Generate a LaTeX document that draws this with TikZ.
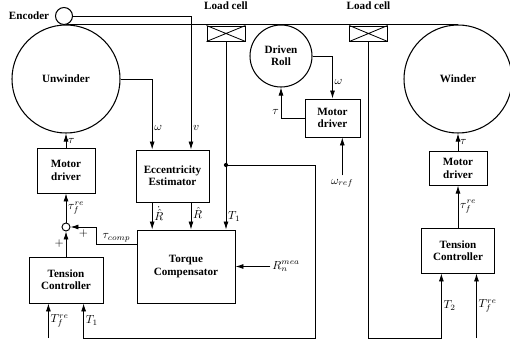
\documentclass[tikz,border=0pt]{standalone}
\usepackage{fontspec}
\setmainfont{Liberation Serif}
\usetikzlibrary{arrows.meta,positioning,calc}

\begin{document}
\begin{tikzpicture}[x=0.03cm,y=-0.03cm,
  font=\fontsize{9.5}{10.5}\selectfont\bfseries, node distance=1mm,
  blk/.style={draw,line width=0.8pt,align=center,inner sep=1pt},
  roll/.style={draw,circle,line width=0.9pt,align=center,inner sep=0pt},
  lbl/.style={font=\fontsize{10}{11}\selectfont,inner sep=1.5pt},
  sig/.style={line width=0.7pt},
  arr/.style={sig,-{Latex[length=2.4mm,width=1.5mm]}},
  web/.style={line width=1.4pt}]
\useasboundingbox (0,0) rectangle (510,343);
% rolls and sensors
\node[roll,minimum size=3.24cm] (unw) at (66,79) {Unwinder};
\node[roll,minimum size=3.24cm] (wnd) at (458,79) {Winder};
\node[roll,minimum size=1.86cm] (drv) at (281,56) {Driven\\Roll};
\node[roll,minimum size=0.51cm,fill=white] (enc) at (64,16) {};
\node[left=0.5mm of enc] (enctxt) {Encoder};
\draw[web] (unw.north) -- (wnd.north);
\node[blk,minimum width=1.14cm,minimum height=0.45cm] (lc1) at (226,33.5) {};
\node[blk,minimum width=1.12cm,minimum height=0.45cm] (lc2) at (368.5,33.5) {};
\draw[sig] (lc1.north west) -- (lc1.south east) (lc1.south west) -- (lc1.north east);
\draw[sig] (lc2.north west) -- (lc2.south east) (lc2.south west) -- (lc2.north east);
\node[above=3.5mm of lc1.north] (lc1txt) {Load cell};
\node[above=3.5mm of lc2.north] (lc2txt) {Load cell};
% blocks
\node[blk,minimum width=1.74cm,minimum height=1.35cm] (md1) at (66,170.5) {Motor\\driver};
\node[blk,minimum width=2.22cm,minimum height=1.38cm] (tc1) at (66,280) {Tension\\Controller};
\node[circle,draw,line width=0.8pt,minimum size=0.24cm,inner sep=0pt] (sj) at (66,227) {};
\node[blk,minimum width=2.19cm,minimum height=1.56cm] (est) at (172.5,176) {Eccentricity\\Estimator};
\node[blk,minimum width=2.94cm,minimum height=2.19cm] (comp) at (186,266.5) {Torque\\Compensator};
\node[blk,minimum width=1.65cm,minimum height=1.14cm] (md2) at (332.5,118) {Motor\\driver};
\node[blk,minimum width=1.74cm,minimum height=1.0cm] (md3) at (458,168.5) {Motor\\driver};
\node[blk,minimum width=2.19cm,minimum height=1.35cm] (tc2) at (458,250.5) {Tension\\Controller};
% ports
\coordinate (bot) at (0,338);
\coordinate (wi) at ($(est.north)!0.55!(est.north west)$);
\coordinate (vi) at ($(est.north)!0.5!(est.north east)$);
\coordinate (jt) at (lc1.south |- 0,165);
\coordinate (fb1) at (315,338);
\coordinate (t1in) at ($(tc1.south)!0.47!(tc1.south east)$);
\coordinate (tr1) at ($(tc1.south)!0.47!(tc1.south west)$);
\coordinate (t2in) at ($(tc2.south)!0.45!(tc2.south west)$);
\coordinate (tr2) at ($(tc2.south)!0.5!(tc2.south east)$);
\coordinate (tcout) at ($(comp.west)!0.6!(comp.north west)$);
\coordinate (wr) at ($(md2.south)!0.35!(md2.south east)$);
% unwinder side
\draw[arr] (md1.north) -- (unw.south) node[lbl,midway,right]{$\tau$};
\draw[arr] (sj.north) -- (md1.south) node[lbl,midway,right]{$\tau^{re}_{f}$};
\draw[arr] (tc1.north) -- (sj.south) node[lbl,midway,left]{$+$};
\draw[arr] (tcout) -- ++(-40,0) node[lbl,midway,above]{$\tau_{comp}$} |- (sj.east) node[lbl,pos=0.75,below]{$+$};
\draw[arr] (tr1 |- bot) -- (tr1) node[lbl,midway,right]{$T^{re}_{f}$};
\draw[arr] (jt) -| (fb1) -| (t1in) node[lbl,pos=0.75,right]{$T_1$};
% estimator and compensator
\draw[arr] (unw.east) -| (wi) node[lbl,pos=0.85,right]{$\omega$};
\draw[arr] (enc.east) -| (vi) node[lbl,pos=0.92,right]{$v$};
\draw[arr] (wi |- est.south) -- (wi |- comp.north) node[lbl,pos=0.4,right]{$\dot{\hat{R}}$};
\draw[arr] (vi |- est.south) -- (vi |- comp.north) node[lbl,pos=0.4,right]{$\hat{R}$};
\draw[arr] (lc1.south) -- (lc1.south |- comp.north) node[lbl,pos=0.93,right]{$T_1$};
\fill (jt) circle (1.8pt);
\draw[arr] (comp.east) ++(35,0) coordinate (rm) -- (comp.east);
\node[lbl,right] (rmtxt) at (rm) {$R^{mea}_{n}$};
% driven roll
\draw[arr] (drv.east) -| (md2.north) node[lbl,pos=0.8,right]{$\omega$};
\draw[arr] (md2.west) -| (drv.south) node[lbl,pos=0.6,left]{$\tau$};
\draw[arr] (wr) ++(0,38) coordinate (wrt) -- (wr);
\node[lbl,below=0.5mm of wrt] (wrtxt) {$\omega_{ref}$};
% winder side
\draw[arr] (md3.north) -- (wnd.south) node[lbl,midway,right]{$\tau$};
\draw[arr] (tc2.north) -- (md3.south) node[lbl,midway,right]{$\tau^{re}_{f}$};
\draw[arr] (lc2.south) |- (t2in |- bot) -- (t2in) node[lbl,midway,right]{$T_2$};
\draw[arr] (tr2 |- bot) -- (tr2) node[lbl,midway,right]{$T^{re}_{f}$};
\end{tikzpicture}
\end{document}
